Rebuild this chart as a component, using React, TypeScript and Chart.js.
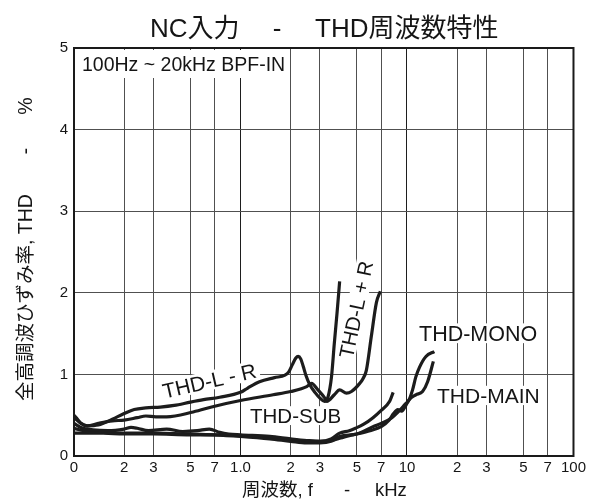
import React, { useEffect, useRef } from "react";
import { Chart, registerables } from "chart.js";

Chart.register(...registerables);

const FONT = '"Liberation Sans", Arial, "Noto Sans CJK JP", sans-serif';

// ---- axis ticks ----
const xTickValues = [0.1, 0.2, 0.3, 0.5, 0.7, 1, 2, 3, 5, 7, 10, 20, 30, 50, 70, 100];
const xTickLabels = ["0", "2", "3", "5", "7", "1.0", "2", "3", "5", "7", "10", "2", "3", "5", "7", "100"];
const yTickValues = [0, 1, 2, 3, 4, 5];

// ---- series (frequency kHz, THD %) ----
const lrMinusFreq = [0.1, 0.105, 0.11, 0.12, 0.14, 0.17, 0.2, 0.23, 0.27, 0.33, 0.4, 0.5, 0.6, 0.75, 1.0, 1.1, 1.3, 1.6, 1.85, 1.95, 2.05, 2.15, 2.22, 2.3, 2.38, 2.47, 2.6, 2.8, 3.0, 3.2, 3.35, 3.52, 3.66, 3.8, 3.94];
const lrMinusThd = [0.50, 0.45, 0.40, 0.37, 0.38, 0.45, 0.52, 0.57, 0.59, 0.60, 0.62, 0.66, 0.69, 0.72, 0.78, 0.83, 0.91, 0.96, 0.99, 1.03, 1.12, 1.20, 1.22, 1.19, 1.10, 0.99, 0.88, 0.78, 0.71, 0.67, 0.72, 0.97, 1.38, 1.75, 2.14];

const lrPlusFreq = [0.1, 0.11, 0.12, 0.14, 0.17, 0.2, 0.24, 0.27, 0.31, 0.36, 0.52, 0.7, 1.0, 1.57, 2.0, 2.5, 2.67, 2.92, 3.21, 3.3, 3.66, 3.94, 4.33, 4.64, 5.2, 5.45, 5.7, 6.11, 6.55, 6.92];
const lrPlusThd = [0.47, 0.40, 0.37, 0.40, 0.43, 0.44, 0.47, 0.49, 0.48, 0.48, 0.54, 0.61, 0.68, 0.75, 0.79, 0.85, 0.89, 0.81, 0.71, 0.67, 0.75, 0.81, 0.77, 0.79, 0.89, 0.95, 1.05, 1.47, 1.88, 2.02];

const subFreq = [0.1, 0.11, 0.13, 0.16, 0.2, 0.22, 0.24, 0.28, 0.36, 0.45, 0.55, 0.65, 0.75, 0.85, 1.0, 1.5, 2.0, 2.5, 3.0, 3.5, 3.94, 4.5, 4.9, 5.5, 6.25, 7.0, 7.87, 8.26];
const subThd = [0.40, 0.35, 0.32, 0.31, 0.33, 0.35, 0.34, 0.31, 0.33, 0.30, 0.31, 0.33, 0.29, 0.27, 0.26, 0.24, 0.21, 0.19, 0.18, 0.21, 0.28, 0.31, 0.34, 0.39, 0.47, 0.56, 0.67, 0.78];

const monoFreq = [0.1, 0.12, 0.15, 0.2, 0.3, 0.5, 0.7, 1.0, 1.5, 2.0, 2.5, 3.0, 3.5, 3.94, 5.0, 6.25, 7.0, 8.0, 9.04, 9.7, 10.3, 10.8, 11.3, 11.9, 13.0, 14.6];
const monoThd = [0.34, 0.30, 0.29, 0.28, 0.28, 0.27, 0.26, 0.24, 0.21, 0.18, 0.16, 0.16, 0.18, 0.24, 0.27, 0.36, 0.40, 0.46, 0.56, 0.63, 0.69, 0.81, 0.97, 1.09, 1.22, 1.28];

const mainFreq = [0.1, 0.15, 0.2, 0.3, 0.5, 0.7, 1.0, 1.5, 2.0, 2.5, 3.0, 3.5, 4.0, 4.5, 5.0, 6.0, 7.0, 7.8, 8.3, 8.8, 9.3, 9.9, 10.3, 11.3, 12.4, 13.3, 14.4];
const mainThd = [0.28, 0.28, 0.27, 0.27, 0.26, 0.26, 0.25, 0.22, 0.20, 0.18, 0.18, 0.19, 0.22, 0.25, 0.27, 0.31, 0.36, 0.44, 0.52, 0.57, 0.55, 0.63, 0.69, 0.75, 0.79, 0.91, 1.16];

const series = [
  { name: "THD-L - R", freq: lrMinusFreq, thd: lrMinusThd },
  { name: "THD-L + R", freq: lrPlusFreq, thd: lrPlusThd },
  { name: "THD-SUB", freq: subFreq, thd: subThd },
  { name: "THD-MONO", freq: monoFreq, thd: monoThd },
  { name: "THD-MAIN", freq: mainFreq, thd: mainThd },
];

function drawLabel(ctx: CanvasRenderingContext2D, text: string, x: number, y: number, size: number, angleDeg: number, align: "left" | "center", bg = true) {
  ctx.save();
  ctx.translate(x, y);
  ctx.rotate((angleDeg * Math.PI) / 180);
  ctx.font = `${size}px ${FONT}`;
  ctx.textBaseline = "alphabetic";
  ctx.textAlign = "left";
  const w = ctx.measureText(text).width;
  const x0 = align === "center" ? -w / 2 : 0;
  if (bg) {
    ctx.fillStyle = "#ffffff";
    ctx.fillRect(x0 - 3, -size * 0.82, w + 6, size * 0.92);
  }
  ctx.fillStyle = "#151515";
  ctx.fillText(text, x0, 0);
  ctx.restore();
}

const decorPlugin = {
  id: "decor",
  beforeDatasetsDraw(chart: any) {
    const ctx: CanvasRenderingContext2D = chart.ctx;
    ctx.save();
    ctx.fillStyle = "#ffffff";
    ctx.fillRect(76, 50, 213, 28);
    ctx.restore();
    drawLabel(ctx, "100Hz ~ 20kHz BPF-IN", 82, 71, 19.5, 0, "left", false);
    drawLabel(ctx, "THD-L - R", 211, 388, 21, -13, "center");
    drawLabel(ctx, "THD-L + R", 363, 311, 20.5, -78, "center");
    drawLabel(ctx, "THD-SUB", 250, 423, 20.5, 0, "left");
    drawLabel(ctx, "THD-MONO", 419, 341, 21.5, 0, "left");
    drawLabel(ctx, "THD-MAIN", 437, 403, 21, 0, "left");
  },
  afterDraw(chart: any) {
    const ctx: CanvasRenderingContext2D = chart.ctx;
    const a = chart.chartArea;
    ctx.save();
    ctx.strokeStyle = "#1a1a1a";
    ctx.lineWidth = 2;
    ctx.strokeRect(a.left, a.top, a.right - a.left, a.bottom - a.top);
    ctx.restore();

    ctx.save();
    ctx.fillStyle = "#151515";
    ctx.textBaseline = "alphabetic";
    // title
    ctx.font = `26px ${FONT}`;
    ctx.textAlign = "left";
    ctx.fillText("NC入力", 150, 37);
    ctx.textAlign = "center";
    ctx.fillText("-", 277, 37);
    ctx.textAlign = "left";
    ctx.fillText("THD周波数特性", 315, 37);

    // x title
    ctx.font = `18.5px ${FONT}`;
    ctx.textAlign = "left";
    ctx.fillText("周波数, f", 242, 496);
    ctx.textAlign = "center";
    ctx.fillText("-", 347, 496);
    ctx.textAlign = "left";
    ctx.fillText("kHz", 375, 496);
    ctx.restore();

    // y title (rotated, reading bottom to top)
    ctx.save();
    ctx.fillStyle = "#151515";
    ctx.translate(27, 0);
    ctx.rotate(-Math.PI / 2);
    ctx.font = `19.5px ${FONT}`;
    ctx.textBaseline = "middle";
    ctx.textAlign = "left";
    ctx.fillText("全高調波ひずみ率, THD", -401, 0);
    ctx.textAlign = "center";
    ctx.fillText("-", -151, 0);
    ctx.fillText("%", -106, 0);
    ctx.restore();
  },
};

export default function App() {
  const ref = useRef<HTMLCanvasElement | null>(null);

  useEffect(() => {
    document.body.style.margin = "0";
    const canvas = ref.current;
    if (!canvas) return;
    const chart = new Chart(canvas, {
      type: "line",
      data: {
        datasets: series.map((s) => ({
          label: s.name,
          data: s.freq.map((f, i) => ({ x: f, y: s.thd[i] })),
          borderColor: "#1c1c1c",
          borderWidth: 3.2,
          pointRadius: 0,
          fill: false,
          cubicInterpolationMode: "monotone" as const,
        })),
      },
      options: {
        responsive: false,
        animation: false,
        events: [],
        layout: { padding: { top: 48, right: 15, left: 0, bottom: 0 } },
        plugins: {
          legend: { display: false },
          title: { display: false },
          tooltip: { enabled: false },
        },
        scales: {
          x: {
            type: "logarithmic",
            min: 0.1,
            max: 100,
            afterBuildTicks: (scale: any) => {
              scale.ticks = xTickValues.map((v) => ({ value: v }));
            },
            afterFit: (scale: any) => {
              scale.height = 45;
            },
            ticks: {
              autoSkip: false,
              maxRotation: 0,
              minRotation: 0,
              padding: 3,
              color: "#151515",
              font: { family: FONT, size: 15 },
              callback: (value: any) => {
                const i = xTickValues.findIndex((v) => Math.abs(v - Number(value)) < 1e-9);
                return i >= 0 ? xTickLabels[i] : "";
              },
            },
            grid: {
              drawTicks: false,
              lineWidth: 1,
              color: (c: any) => {
                const v = c.tick ? c.tick.value : 0;
                return v === 1 || v === 10 ? "#1e1e1e" : "#505050";
              },
            },
            border: { display: true, color: "#1a1a1a", width: 2 },
          },
          y: {
            type: "linear",
            min: 0,
            max: 5,
            afterBuildTicks: (scale: any) => {
              scale.ticks = yTickValues.map((v) => ({ value: v }));
            },
            afterFit: (scale: any) => {
              scale.width = 74;
            },
            ticks: {
              padding: 6,
              color: "#151515",
              font: { family: FONT, size: 15 },
              callback: (value: any) => String(value),
            },
            grid: { drawTicks: false, lineWidth: 1, color: "#505050" },
            border: { display: true, color: "#1a1a1a", width: 2 },
          },
        },
      },
      plugins: [decorPlugin],
    });
    return () => chart.destroy();
  }, []);

  return (
    <div style={{ width: 589, height: 501, background: "#fff" }}>
      <canvas ref={ref} width={589} height={501} style={{ display: "block" }} />
    </div>
  );
}
